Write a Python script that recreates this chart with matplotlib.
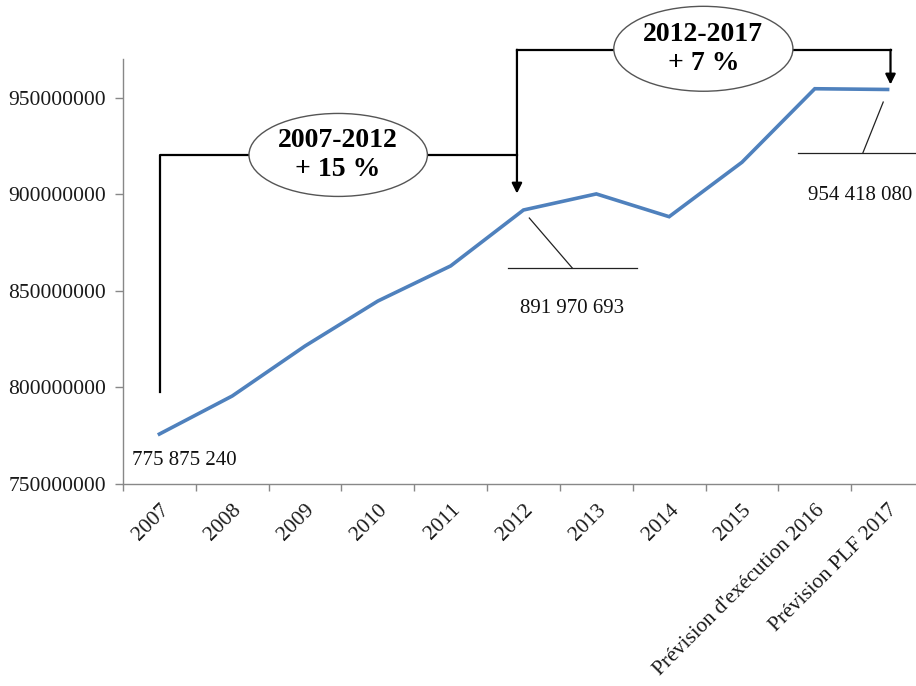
import matplotlib.pyplot as plt
from matplotlib.patches import Ellipse

years = ['2007', '2008', '2009', '2010', '2011', '2012', '2013', '2014', '2015',
         "Prévision d'exécution 2016", 'Prévision PLF 2017']
values = [775875240, 795600000, 821500000, 844800000, 863000000, 891970693,
          900300000, 888500000, 916700000, 954800000, 954418080]
yticks = [750000000, 800000000, 850000000, 900000000, 950000000]

plt.rcParams['font.family'] = ['Liberation Serif', 'DejaVu Serif']

fig = plt.figure(figsize=(9.16, 6.86), dpi=100)
ax = fig.add_axes([123 / 916, 202 / 686, 801 / 916, 424.6 / 686])

x = list(range(len(years)))
ax.plot(x, values, color='#4F81BD', linewidth=2.6, solid_joinstyle='miter')

ax.set_xlim(-0.5, len(years) - 0.5)
ax.set_ylim(750000000, 970000000)
ax.set_yticks(yticks)
ax.set_yticklabels([str(v) for v in yticks], fontsize=15.5, color='#1a1a1a')
ax.set_xticks(x)
ax.set_xticklabels(years, rotation=45, ha='right', rotation_mode='anchor',
                   fontsize=15.5, color='#1a1a1a')
ax.set_xticks([i - 0.5 for i in range(len(years) + 1)], minor=True)
ax.tick_params(axis='x', which='major', length=0, pad=12)
ax.tick_params(axis='x', which='minor', length=5, color='#888888', width=1)
ax.tick_params(axis='y', length=6, color='#888888', width=1, pad=6)

for side in ['top', 'right']:
    ax.spines[side].set_visible(False)
for side in ['left', 'bottom']:
    ax.spines[side].set_color('#888888')
    ax.spines[side].set_linewidth(1)

M = 1e6
# bracket 2007-2012
ax.plot([0.01, 0.01, 1.23], [797.7 * M, 920.5 * M, 920.5 * M], color='black', lw=1.6, clip_on=False)
ax.plot([3.68, 4.91], [920.5 * M, 920.5 * M], color='black', lw=1.6, clip_on=False)
ax.annotate('', xy=(4.91, 900.5 * M), xytext=(4.91, 975 * M),
            arrowprops=dict(arrowstyle='-|>', color='black', lw=1.6, mutation_scale=15,
                            shrinkA=0, shrinkB=0), annotation_clip=False)
# bracket 2012-2017
ax.plot([4.91, 6.24], [975 * M, 975 * M], color='black', lw=1.6, clip_on=False)
ax.plot([8.7, 10.04], [975 * M, 975 * M], color='black', lw=1.6, clip_on=False)
ax.annotate('', xy=(10.04, 957 * M), xytext=(10.04, 975 * M),
            arrowprops=dict(arrowstyle='-|>', color='black', lw=1.6, mutation_scale=15,
                            shrinkA=0, shrinkB=0), annotation_clip=False)

e1 = Ellipse((2.455, 920.5 * M), 2.45, 43 * M, facecolor='white', edgecolor='#555555', lw=1, clip_on=False, zorder=3)
e2 = Ellipse((7.47, 975.5 * M), 2.46, 44 * M, facecolor='white', edgecolor='#555555', lw=1, clip_on=False, zorder=3)
ax.add_patch(e1)
ax.add_patch(e2)
ax.text(2.455, 920.5 * M, '2007-2012\n+ 15 %', ha='center', va='center', fontsize=20,
        fontweight='bold', linespacing=1.2, zorder=4)
ax.text(7.47, 975.5 * M, '2012-2017\n+ 7 %', ha='center', va='center', fontsize=20,
        fontweight='bold', linespacing=1.2, zorder=4, clip_on=False)

# data labels
ax.text(-0.38, 762 * M, '775 875 240', ha='left', va='center', fontsize=15, color='#111111')
ax.plot([5.08, 5.67], [887.8 * M, 861.9 * M], color='#222222', lw=0.9)
ax.plot([4.79, 6.56], [861.9 * M, 861.9 * M], color='#222222', lw=0.9)
ax.text(5.67, 840.7 * M, '891 970 693', ha='center', va='center', fontsize=15, color='#111111')
ax.plot([9.94, 9.66], [947.9 * M, 921.5 * M], color='#222222', lw=0.9)
ax.plot([8.77, 10.5], [921.5 * M, 921.5 * M], color='#222222', lw=0.9)
ax.text(9.62, 899.5 * M, '954 418 080', ha='center', va='center', fontsize=15, color='#111111')

fig.savefig('out.png', dpi=100)
